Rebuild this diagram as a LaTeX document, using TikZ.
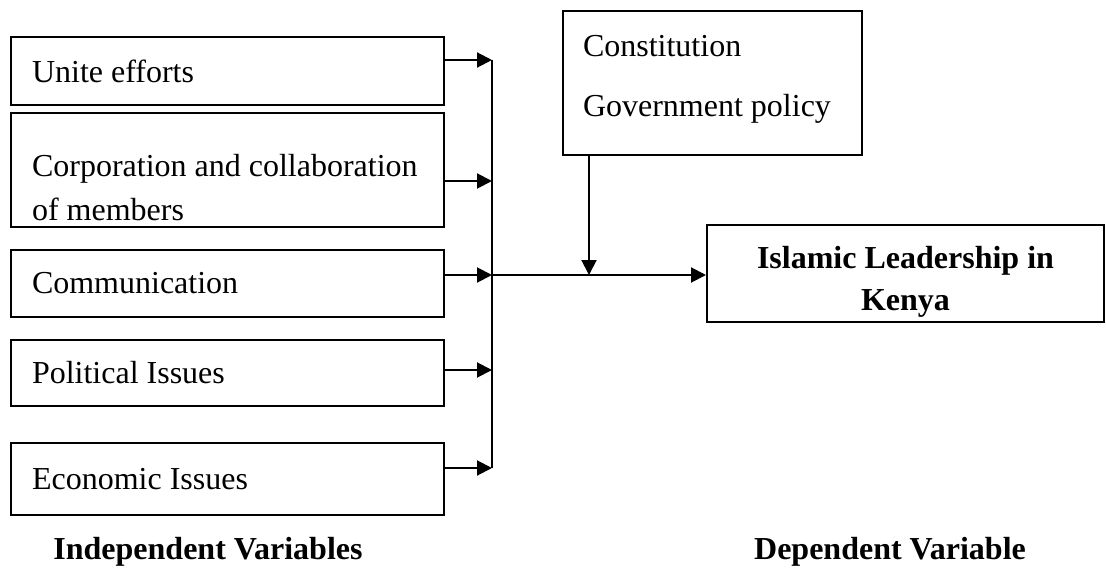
\documentclass[tikz,border=0pt]{standalone}
\usepackage{fontspec}
\setmainfont{Liberation Serif}
\usetikzlibrary{arrows.meta}

\tikzset{
  varbox/.style={draw, line width=2pt, align=flush left, inner xsep=21pt, inner ysep=0pt, text width=391pt},
  arr/.style={line width=2pt, -{Triangle[length=15pt,width=15pt]}},
  bline/.style={line width=2pt}
}

\begin{document}
\begin{tikzpicture}[x=1pt, y=-1pt, font=\fontsize{32}{44}\selectfont]
\useasboundingbox (0,0) rectangle (1106,586);
% independent variables
\node[varbox, minimum height=68pt] (unite) at (227.5,71){Unite efforts};
\node[varbox, minimum height=114pt] (corp) at (227.5,170){\rule{0pt}{58pt}Corporation and collaboration\\of members};
\node[varbox, minimum height=67pt] (comm) at (227.5,283.5){Communication};
\node[varbox, minimum height=66pt] (polit) at (227.5,373){Political Issues};
\node[varbox, minimum height=72pt] (econ) at (227.5,479){Economic Issues};
% intervening and dependent
\node[draw, line width=2pt, align=flush left, inner xsep=20pt, inner ysep=0pt, text width=259pt, minimum height=144pt] (policy) at (712.5,83){Constitution\\[16pt]Government policy\rule[-14pt]{0pt}{14pt}};
\node[draw, line width=2pt, align=flush center, inner xsep=10pt, inner ysep=0pt, text width=377pt, minimum height=97pt, font=\fontsize{32}{42}\selectfont\bfseries] (lead) at (905.5,273.5){\rule{0pt}{38pt}Islamic Leadership in\\Kenya};
% bus
\coordinate (bus1) at (492,60);
\coordinate (bus2) at (492,181);
\coordinate (bus3) at (492,275);
\coordinate (bus4) at (492,370);
\coordinate (bus5) at (492,468);
\coordinate (drop) at (589,275);
\draw[arr] (unite.east |- bus1) -- (bus1);
\draw[arr] (corp.east |- bus2) -- (bus2);
\draw[arr] (comm.east |- bus3) -- (bus3);
\draw[arr] (polit.east |- bus4) -- (bus4);
\draw[arr] (econ.east |- bus5) -- (bus5);
\draw[bline] (bus1) -- (bus5);
\draw[arr] (bus3) -- (bus3 -| lead.west);
\draw[arr] (policy.south -| drop) -- (drop);
% captions
\node[font=\fontsize{32}{44}\selectfont\bfseries] (indep) at (208,552){Independent Variables};
\node[font=\fontsize{32}{44}\selectfont\bfseries] (dep) at (890,552){Dependent Variable};
\end{tikzpicture}
\end{document}
